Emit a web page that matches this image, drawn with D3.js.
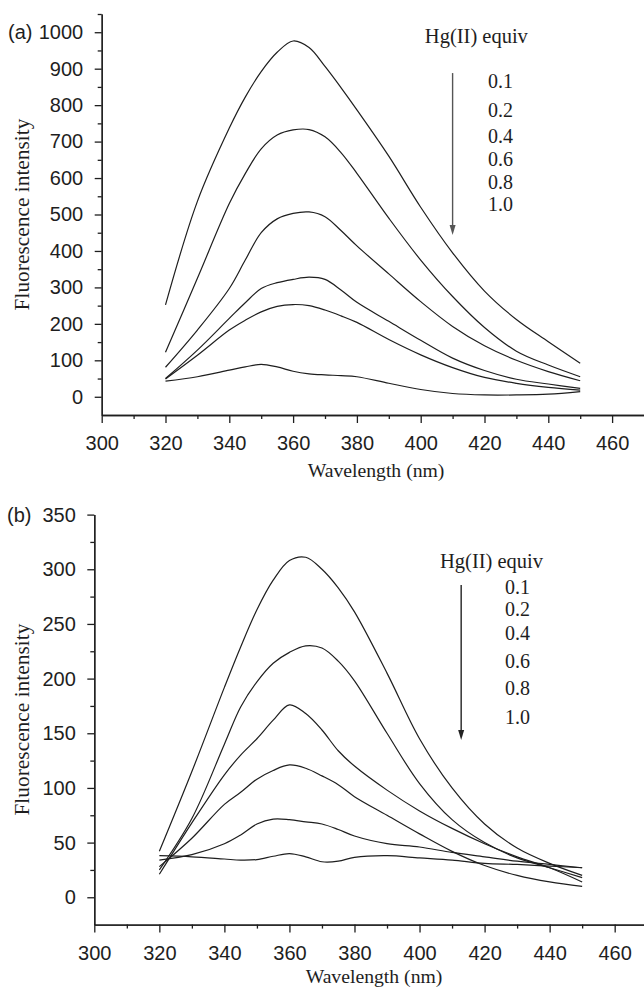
<!DOCTYPE html>
<html>
<head>
<meta charset="utf-8">
<script src="https://cdn.jsdelivr.net/npm/d3@7"></script>
<style>
  body { margin: 0; background: #fff; }
</style>
</head>
<body>
<div id="chart"></div>
<script>
// wavelengths (nm) shared by every spectrum
const wavelengths = [320, 330, 340, 345, 350, 355, 360, 365, 370, 375, 380, 390, 400, 410, 420, 430, 440, 450];
const equivLabels = ['0.1', '0.2', '0.4', '0.6', '0.8', '1.0'];

// panel (a) fluorescence intensity, one array per Hg(II) equiv
const a01 = [252, 536, 737, 822, 892, 945, 976, 958, 906, 848, 787, 660, 520, 395, 290, 212, 151, 92];
const a02 = [122, 325, 530, 612, 680, 718, 732, 733, 713, 670, 613, 490, 375, 275, 190, 125, 87, 55];
const a04 = [81, 183, 297, 375, 450, 488, 503, 507, 494, 456, 414, 337, 261, 193, 140, 100, 69, 44];
const a06 = [50, 128, 215, 258, 297, 313, 322, 328, 322, 293, 259, 207, 155, 106, 72, 48, 35, 23];
const a08 = [49, 114, 183, 210, 233, 248, 253, 250, 238, 222, 204, 157, 115, 80, 53, 37, 26, 18];
const a10 = [43, 55, 73, 82, 89, 82, 70, 63, 60, 58, 55, 37, 20, 9, 5, 5, 7, 14];

// panel (b)
const b01 = [42, 115, 192, 229, 263, 290, 308, 311, 300, 283, 261, 205, 145, 100, 67, 45, 31, 20];
const b02 = [25, 72, 140, 174, 197, 214, 224, 230, 228, 216, 198, 150, 104, 71, 50, 36, 27, 18];
const b04 = [21, 68, 112, 130, 145, 162, 176, 168, 153, 134, 120, 98, 79, 63, 49, 37, 27, 14];
const b06 = [28, 54, 85, 96, 108, 116, 121, 118, 111, 103, 92, 75, 58, 42, 29, 20, 14, 10];
const b08 = [34, 39, 49, 57, 67, 71.5, 71, 69, 67, 62, 56, 49, 46, 41, 37, 33, 30, 27];
const b10 = [38, 37, 35, 34, 34.5, 37.5, 40, 37, 32.5, 33, 36.5, 38, 36, 34, 31, 30, 28.5, 27];

const xTicks = [300, 320, 340, 360, 380, 400, 420, 440, 460];
const xMinor = [310, 330, 350, 370, 390, 410, 430, 450];
const yTicksA = [0, 100, 200, 300, 400, 500, 600, 700, 800, 900, 1000];
const yMinorA = [50, 150, 250, 350, 450, 550, 650, 750, 850, 950, 1050];
const yTicksB = [0, 50, 100, 150, 200, 250, 300, 350];
const yMinorB = [25, 75, 125, 175, 225, 275, 325];

const W = 644, H = 987;
const ink = '#1e1e1e';
const sans = '"Liberation Sans", Arial, Helvetica, sans-serif';
const serif = '"Liberation Serif", "Times New Roman", Times, serif';

const svg = d3.select('#chart').append('svg')
  .attr('width', W).attr('height', H)
  .style('display', 'block');

function drawPanel(p) {
  const x = d3.scaleLinear().domain([300, 470]).range(p.xRange);
  const y = d3.scaleLinear().domain(p.yDomain).range(p.yRange);
  const g = svg.append('g');
  const x0 = p.xRange[0], yb = p.yRange[0];

  // axes: minor ticks first, then major with labels
  g.append('g').attr('transform', `translate(0,${yb})`)
    .call(d3.axisBottom(x).tickValues(xMinor).tickSize(4).tickSizeOuter(0).tickFormat(''));
  const xa = g.append('g').attr('transform', `translate(0,${yb})`)
    .call(d3.axisBottom(x).tickValues(xTicks).tickSize(8).tickSizeOuter(0).tickFormat(d3.format('d')));
  xa.selectAll('text').attr('y', 28).attr('dy', '0.35em');

  g.append('g').attr('transform', `translate(${x0},0)`)
    .call(d3.axisLeft(y).tickValues(p.yMinor).tickSize(4).tickSizeOuter(0).tickFormat(''));
  g.append('g').attr('transform', `translate(${x0},0)`)
    .call(d3.axisLeft(y).tickValues(p.yTicks).tickSize(7).tickSizeOuter(0).tickPadding(11.5).tickFormat(d3.format('d')));

  g.selectAll('.domain, .tick line').attr('stroke', ink).attr('stroke-width', 1.3);
  g.selectAll('.tick text')
    .attr('fill', ink)
    .style('font-family', sans)
    .style('font-size', '20px');

  // panel letter
  g.append('text')
    .attr('x', p.letterX).attr('y', y(p.yTicks[p.yTicks.length - 1]))
    .attr('dy', '0.35em')
    .style('font-family', sans).style('font-size', '20px').attr('fill', ink)
    .text(p.letter);

  // axis titles
  g.append('text')
    .attr('x', x(386)).attr('y', yb + p.titleGap)
    .attr('dy', '0.35em')
    .attr('text-anchor', 'middle')
    .style('font-family', serif).style('font-size', '19.7px').attr('fill', ink)
    .text('Wavelength (nm)');

  g.append('text')
    .attr('transform', `translate(21.7,${(p.yRange[0] + p.yRange[1]) / 2}) rotate(-90)`)
    .attr('dy', '0.35em')
    .attr('text-anchor', 'middle')
    .style('font-family', serif).style('font-size', '21.4px').attr('fill', ink)
    .text('Fluorescence intensity');

  // spectra
  const line = d3.line()
    .x((d, i) => x(wavelengths[i]))
    .y(d => y(d))
    .curve(d3.curveCatmullRom.alpha(0.5));

  g.append('g')
    .selectAll('path')
    .data(p.series)
    .enter().append('path')
    .attr('d', line)
    .attr('fill', 'none')
    .attr('stroke', ink)
    .attr('stroke-width', 1.2);

  // legend: title, arrow, equiv labels
  const L = p.legend;
  g.append('text')
    .attr('x', x(L.titleX)).attr('y', y(L.titleY))
    .attr('dy', '0.35em')
    .style('font-family', serif).style('font-size', '20.5px').attr('fill', ink)
    .text('Hg(II) equiv');

  const ax = x(L.arrowX), ay1 = y(L.arrowY[0]), ay2 = y(L.arrowY[1]);
  g.append('line')
    .attr('x1', ax).attr('x2', ax)
    .attr('y1', ay1).attr('y2', ay2 - 8)
    .attr('stroke', L.arrowColor).attr('stroke-width', 1.4);
  g.append('path')
    .attr('d', `M${ax - 3},${ay2 - 10}L${ax + 3},${ay2 - 10}L${ax},${ay2}Z`)
    .attr('fill', L.arrowColor);

  g.append('g')
    .selectAll('text')
    .data(equivLabels)
    .enter().append('text')
    .attr('x', x(L.labelX))
    .attr('y', (d, i) => y(L.labelY[i]))
    .attr('dy', '0.35em')
    .style('font-family', serif).style('font-size', '20px').attr('fill', ink)
    .text(d => d);
}

drawPanel({
  letter: '(a)', letterX: 8,
  xRange: [101.7, 644], yRange: [415, 14], yDomain: [-50, 1050],
  yTicks: yTicksA, yMinor: yMinorA, titleGap: 55,
  series: [a01, a02, a04, a06, a08, a10],
  legend: {
    titleX: 401.3, titleY: 990,
    arrowX: 410.0, arrowY: [888, 444], arrowColor: '#555',
    labelX: 421.1, labelY: [866, 787, 714, 652, 590, 529]
  }
});

drawPanel({
  letter: '(b)', letterX: 7,
  xRange: [94.3, 647.2], yRange: [924.6, 514.6], yDomain: [-25, 350],
  yTicks: yTicksB, yMinor: yMinorB, titleGap: 52,
  series: [b01, b02, b04, b06, b08, b10],
  legend: {
    titleX: 406.3, titleY: 308,
    arrowX: 412.8, arrowY: [285.6, 143.9], arrowColor: '#222',
    labelX: 426.3, labelY: [284, 263.4, 241.5, 216.4, 191.2, 165.2]
  }
});
</script>
</body>
</html>
